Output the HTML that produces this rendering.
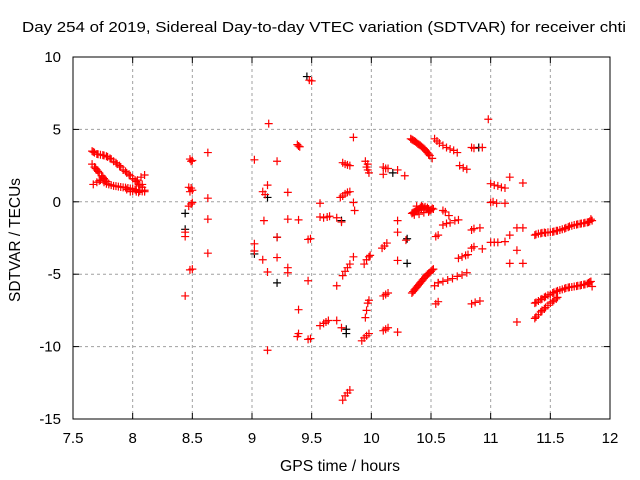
<!DOCTYPE html>
<html><head><meta charset="utf-8"><style>
html,body{margin:0;padding:0;background:#fff;}
svg{display:block;font-family:"Liberation Sans",sans-serif;}
</style></head><body>
<svg id="chart" width="640" height="480" viewBox="0 0 640 480">
<text x="324" y="32" font-size="15" text-anchor="middle" textLength="604" lengthAdjust="spacingAndGlyphs" fill="#000">Day 254 of 2019, Sidereal Day-to-day VTEC variation (SDTVAR) for receiver chti</text>
<text x="340" y="471" font-size="16" text-anchor="middle" textLength="120" lengthAdjust="spacingAndGlyphs">GPS time / hours</text>
<text x="20" y="240" font-size="16" text-anchor="middle" textLength="124" lengthAdjust="spacingAndGlyphs" transform="rotate(-90 20 240)">SDTVAR / TECUs</text>
<g id="grid"></g>
<g id="axes"></g>
<g id="marks"></g>
</svg>
<script>
const xTicks = [7.5, 8, 8.5, 9, 9.5, 10, 10.5, 11, 11.5, 12];
const xTickLabels = ["7.5","8","8.5","9","9.5","10","10.5","11","11.5","12"];
const yTicks = [10, 5, 0, -5, -10, -15];
const yTickLabels = ["10","5","0","-5","-10","-15"];
const blackPoints = [[8.44,-0.8],[8.44,-1.9],[9.02,-3.6],[9.13,0.3],[9.21,-5.6],[9.46,8.65],[9.21,-2.45],[9.75,-1.3],[9.79,-8.8],[9.79,-9.1],[10.18,2.0],[10.3,-2.55],[10.3,-4.25],[10.9,3.75]];
const redLoop = [[7.66,3.5],[7.68,3.4],[7.7,3.3],[7.73,3.25],[7.76,3.2],[7.79,3.1],[7.82,2.95],[7.84,2.8],[7.87,2.6],[7.9,2.4],[7.92,2.2],[7.95,2.0],[7.98,1.8],[8.0,1.6],[8.03,1.4],[8.05,1.2],[8.08,1.0],[8.1,0.8],[7.66,2.6],[7.68,2.4],[7.7,2.2],[7.72,2.0],[7.74,1.8],[7.76,1.6],[7.78,1.4],[7.67,1.2],[7.7,1.35],[7.73,1.5],[7.76,1.35],[7.8,1.2],[7.84,1.1],[7.88,1.05],[7.92,1.0],[7.96,0.95],[8.0,0.9],[8.03,0.8],[8.06,0.75],[8.1,0.7],[8.04,1.5],[8.07,1.7],[8.1,1.85],[8.05,0.65],[7.98,0.7],[8.08,1.2]];
const redLoopExtra = [[7.67,3.45],[7.71,3.28],[7.75,3.22],[7.78,3.15],[7.81,3.0],[7.86,2.7],[7.89,2.5],[7.94,2.1],[7.97,1.9],[8.02,1.5],[8.06,1.1],[7.69,2.3],[7.71,2.1],[7.75,1.7],[7.77,1.5],[7.72,1.45],[7.78,1.25],[7.82,1.15],[7.86,1.08],[7.9,1.02],[7.94,0.98],[7.98,0.92],[8.02,0.85],[8.08,0.72],[8.0,0.75],[8.03,0.7],[7.95,0.85]];
const redCol85 = [[8.48,2.95],[8.5,2.85],[8.49,2.8],[8.63,3.4],[8.47,1.0],[8.49,0.95],[8.5,0.8],[8.48,0.7],[8.5,-0.05],[8.49,-0.15],[8.47,-0.3],[8.63,0.25],[8.63,-1.2],[8.44,-2.1],[8.44,-2.4],[8.63,-3.55],[8.48,-4.7],[8.5,-4.65],[8.44,-6.5]];
const redCol90 = [[9.14,5.4],[9.02,2.9],[9.21,2.8],[9.13,1.15],[9.09,0.7],[9.11,0.5],[9.3,0.65],[9.1,-1.3],[9.3,-1.2],[9.39,-1.25],[9.02,-2.9],[9.02,-3.4],[9.21,-2.45],[9.09,-4.0],[9.13,-4.85],[9.21,-3.85],[9.3,-4.55],[9.3,-4.9],[9.39,-7.45],[9.39,-9.1],[9.38,-9.3],[9.13,-10.25],[9.39,3.85],[9.38,3.95],[9.4,3.8]];
const redCol95 = [[9.48,8.4],[9.5,8.35],[9.47,-2.6],[9.49,-2.55],[9.47,-5.45],[9.49,-9.45],[9.47,-9.5],[9.57,-1.05],[9.6,-1.1],[9.63,-1.05],[9.65,-1.0],[9.71,-1.1],[9.57,-0.1],[9.57,-8.55],[9.6,-8.4],[9.62,-8.3],[9.64,-8.2],[9.71,-8.2],[9.75,-8.7],[9.71,-5.8]];
const redCol98 = [[9.85,4.45],[9.76,2.7],[9.78,2.6],[9.8,2.55],[9.82,2.5],[9.76,0.4],[9.78,0.55],[9.8,0.65],[9.82,0.7],[9.74,0.3],[9.85,-0.05],[9.86,-0.6],[9.75,-1.4],[9.85,-3.8],[9.76,-5.1],[9.78,-4.8],[9.8,-4.55],[9.82,-4.3],[9.76,-13.7],[9.78,-13.4],[9.8,-13.2],[9.82,-13.0]];
const redCol100 = [[9.95,2.8],[9.97,2.6],[9.96,2.4],[9.97,2.2],[9.98,2.0],[9.94,-4.3],[9.96,-4.0],[9.98,-3.8],[9.99,-3.7],[9.95,-8.0],[9.96,-7.5],[9.97,-7.0],[9.98,-6.8],[9.92,-9.6],[9.94,-9.4],[9.96,-9.25],[9.98,-9.1]];
const redCol102 = [[10.1,2.4],[10.12,2.3],[10.1,1.9],[10.14,2.3],[10.22,2.2],[10.28,1.8],[10.22,-1.3],[10.22,-2.1],[10.29,-2.65],[10.13,-2.85],[10.09,-3.2],[10.11,-3.05],[10.22,-4.05],[10.1,-6.5],[10.12,-6.4],[10.14,-6.3],[10.1,-8.9],[10.12,-8.8],[10.14,-8.7],[10.22,-9.0]];
const redCol105 = [[10.33,4.35],[10.35,4.25],[10.37,4.15],[10.39,4.0],[10.41,3.9],[10.43,3.75],[10.45,3.6],[10.47,3.4],[10.49,3.2],[10.51,3.0],[10.34,-0.8],[10.36,-0.7],[10.38,-0.6],[10.4,-0.5],[10.42,-0.45],[10.44,-0.45],[10.46,-0.5],[10.48,-0.5],[10.5,-0.55],[10.52,-0.5],[10.36,-0.9],[10.4,-0.85],[10.44,-0.75],[10.48,-0.7],[10.38,-0.3],[10.42,-0.3],[10.54,-2.4],[10.56,-2.3],[10.6,-0.6],[10.62,-0.7],[10.65,-0.95],[10.34,-6.3],[10.36,-6.1],[10.38,-5.9],[10.4,-5.7],[10.42,-5.5],[10.44,-5.3],[10.46,-5.1],[10.48,-4.95],[10.5,-4.8],[10.52,-4.65],[10.56,-5.6],[10.56,-6.9],[10.54,-7.05]];
const redCol105Extra = [[10.34,4.3],[10.36,4.2],[10.38,4.08],[10.4,3.95],[10.42,3.82],[10.44,3.68],[10.46,3.5],[10.48,3.3],[10.35,-0.75],[10.37,-0.65],[10.39,-0.55],[10.41,-0.4],[10.43,-0.35],[10.45,-0.35],[10.47,-0.4],[10.49,-0.6],[10.51,-0.45],[10.35,-6.2],[10.37,-6.0],[10.39,-5.8],[10.41,-5.6],[10.43,-5.4],[10.45,-5.2],[10.47,-5.0],[10.49,-4.9],[10.51,-4.7]];
const redCol107 = [[10.53,4.35],[10.55,4.2],[10.57,4.05],[10.6,3.9],[10.63,3.75],[10.66,3.65],[10.69,3.55],[10.72,3.4],[10.74,2.5],[10.77,2.35],[10.8,2.25],[10.6,-1.6],[10.63,-1.5],[10.66,-1.45],[10.7,-1.3],[10.73,-1.25],[10.53,-5.8],[10.56,-5.6],[10.6,-5.5],[10.64,-5.4],[10.68,-5.3],[10.72,-5.15],[10.76,-5.05],[10.8,-4.9],[10.73,-3.9],[10.76,-3.8],[10.79,-3.7],[10.81,-3.65]];
const redCol110 = [[10.84,3.75],[10.86,3.7],[10.93,3.75],[10.98,5.7],[10.84,-1.95],[10.86,-1.85],[10.91,-1.8],[10.84,-3.2],[10.86,-3.1],[10.93,-3.25],[10.84,-7.05],[10.87,-6.95],[10.91,-6.85],[11.0,1.25],[11.03,1.15],[11.06,1.1],[11.09,1.0],[11.12,0.95],[11.16,1.7],[11.27,1.3],[11.0,-0.05],[11.02,0.0],[11.05,-0.1],[11.12,-0.1],[11.22,-1.8],[11.27,-1.8],[11.16,-2.3],[11.0,-2.8],[11.03,-2.8],[11.06,-2.8],[11.12,-2.75],[11.22,-3.35],[11.16,-4.25],[11.27,-4.25],[11.22,-8.3]];
const redStreakUpper = [[11.37,-2.3],[11.4,-2.2],[11.43,-2.15],[11.46,-2.15],[11.5,-2.1],[11.53,-2.05],[11.56,-2.0],[11.6,-1.9],[11.63,-1.8],[11.66,-1.7],[11.7,-1.6],[11.73,-1.55],[11.76,-1.5],[11.79,-1.45],[11.82,-1.4],[11.85,-1.3],[11.84,-1.2],[11.38,-2.25],[11.42,-2.18],[11.45,-2.12],[11.48,-2.1],[11.52,-2.08],[11.55,-2.0],[11.58,-1.95],[11.62,-1.85],[11.65,-1.75],[11.68,-1.65],[11.72,-1.58],[11.75,-1.52],[11.78,-1.48],[11.81,-1.42],[11.83,-1.35]];
const redStreakLowerA = [[11.37,-7.0],[11.4,-6.85],[11.43,-6.7],[11.46,-6.55],[11.5,-6.4],[11.53,-6.25],[11.56,-6.15],[11.6,-6.05],[11.63,-5.95],[11.66,-5.9],[11.7,-5.85],[11.73,-5.8],[11.76,-5.75],[11.79,-5.7],[11.82,-5.6],[11.84,-5.5],[11.85,-5.85],[11.38,-6.95],[11.42,-6.75],[11.45,-6.6],[11.48,-6.45],[11.52,-6.3],[11.55,-6.2],[11.58,-6.1],[11.62,-6.0],[11.65,-5.92],[11.68,-5.88],[11.72,-5.82],[11.75,-5.78],[11.78,-5.72],[11.81,-5.65],[11.83,-5.55]];
const redStreakLowerB = [[11.37,-8.05],[11.4,-7.8],[11.43,-7.5],[11.46,-7.3],[11.5,-7.0],[11.53,-6.8],[11.56,-6.6],[11.38,-7.95],[11.42,-7.6],[11.45,-7.4],[11.48,-7.15],[11.52,-6.9],[11.55,-6.7]];

const L=73,R=610,T=57,B=419;
const xMin=7.5,xMax=12,yMin=-15,yMax=10;
function sx(v){return L+(v-xMin)/(xMax-xMin)*(R-L);}
function sy(v){return B-(v-yMin)/(yMax-yMin)*(B-T);}
const NS="http://www.w3.org/2000/svg";
function mk(tag,attrs,parent){const e=document.createElementNS(NS,tag);for(const k in attrs)e.setAttribute(k,attrs[k]);parent.appendChild(e);return e;}
const grid=document.getElementById('grid'),axes=document.getElementById('axes'),marks=document.getElementById('marks');
xTicks.forEach((t,i)=>{
  const x=sx(t);
  if(i>0&&i<xTicks.length-1){const g=mk('line',{x1:x,y1:T,x2:x,y2:B,stroke:'#a0a0a0','stroke-dasharray':'3,3','stroke-width':1},grid);
  
  }
  mk('line',{x1:x,y1:B,x2:x,y2:B-6,stroke:'#000'},axes);
  mk('line',{x1:x,y1:T,x2:x,y2:T+6,stroke:'#000'},axes);
  const tx=mk('text',{x:x,y:B+24,'font-size':15,'text-anchor':'middle'},axes);
  tx.textContent=xTickLabels[i];
  
  
});
yTicks.forEach((t,i)=>{
  const y=sy(t);
  if(i>0&&i<yTicks.length-1){const g=mk('line',{x1:L,y1:y,x2:R,y2:y,stroke:'#a0a0a0','stroke-dasharray':'3,3','stroke-width':1},grid);
  
  }
  mk('line',{x1:L,y1:y,x2:L+6,y2:y,stroke:'#000'},axes);
  mk('line',{x1:R,y1:y,x2:R-6,y2:y,stroke:'#000'},axes);
  const tx=mk('text',{x:L-12,y:y+5,'font-size':15,'text-anchor':'end'},axes);
  tx.textContent=yTickLabels[i];
  
  
});
const frame=mk('rect',{x:L,y:T,width:R-L,height:B-T,fill:'none',stroke:'#000','stroke-width':1},axes);


function plus(p,color){
  const x=sx(p[0]),y=sy(p[1]);
  const g=mk('path',{d:`M${x-4},${y}H${x+4}M${x},${y-4}V${y+4}`,stroke:color,'stroke-width':1.2,fill:'none'},marks);
  
  
}
blackPoints.forEach(p=>plus(p,'#000'));
[redLoop,redLoopExtra,redCol85,redCol90,redCol95,redCol98,redCol100,redCol102,redCol105,redCol105Extra,redCol107,redCol110,redStreakUpper,redStreakLowerA,redStreakLowerB].forEach(arr=>arr.forEach(p=>plus(p,'#ff0000')));
</script>
</body></html>
